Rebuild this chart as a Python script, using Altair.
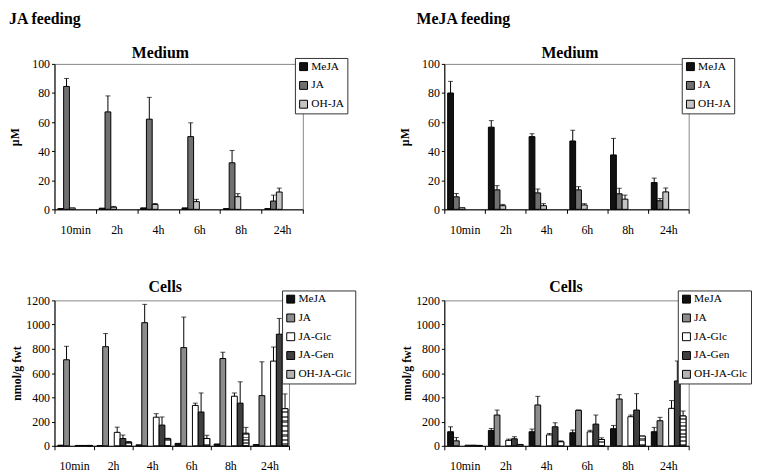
import altair as alt
import pandas as pd

times = ["10min", "2h", "4h", "6h", "8h", "24h"]

# ---- JA feeding, Medium (µM)
med_series = ["MeJA", "JA", "OH-JA"]
jaM_MeJA = [0.5, 0.8, 1.0, 1.0, 0.5, 0.5]
jaM_JA = [84.5, 67, 62, 50, 32, 5.7]
jaM_OHJA = [1.0, 1.5, 3.4, 5.3, 8.7, 11.9]
jaM_MeJA_err = [None, None, None, None, None, None]
jaM_JA_err = [90, 78, 77, 59.5, 40.5, 9.8]
jaM_OHJA_err = [None, 2.0, 4.0, 6.9, 10.8, 14.6]

# ---- MeJA feeding, Medium (µM)
meM_MeJA = [80, 56.5, 50, 47, 37.4, 18.4]
meM_JA = [8.6, 13.4, 11.3, 13.4, 10.7, 5.9]
meM_OHJA = [1.1, 2.5, 2.5, 3.0, 7.0, 12.0]
meM_MeJA_err = [88, 61, 52, 54.4, 48.8, 21.5]
meM_JA_err = [10.9, 16.3, 14, 15.6, 14.5, 7.5]
meM_OHJA_err = [None, 3.4, 3.9, 3.9, 9.8, 14.7]

# ---- JA feeding, Cells (nmol/g fwt)
cell_series = ["MeJA", "JA", "JA-Glc", "JA-Gen", "OH-JA-Glc"]
jaC_MeJA = [5, 2, 8, 20, 15, 10]
jaC_JA = [710, 818, 1016, 810, 720, 414]
jaC_JAGlc = [3, 111, 236, 333, 409, 699]
jaC_JAGen = [3, 60, 171, 279, 352, 921]
jaC_OHJAGlc = [3, 30, 57, 60, 103, 306]
jaC_MeJA_err = [None, None, None, None, None, None]
jaC_JA_err = [821, 926, 1167, 1062, 772, 693]
jaC_JAGlc_err = [None, 154, 265, 352, 436, 815]
jaC_JAGen_err = [None, 89, 238, 436, 528, 1051]
jaC_OHJAGlc_err = [None, 35, 62, 87, 152, 428]

# ---- MeJA feeding, Cells (nmol/g fwt)
meC_MeJA = [116, 127, 116, 108, 141, 116]
meC_JA = [41, 254, 337, 293, 386, 207]
meC_JAGlc = [5, 45, 90, 115, 240, 309]
meC_JAGen = [5, 58, 157, 179, 295, 535]
meC_OHJAGlc = [3, 11, 33, 52, 80, 246]
meC_MeJA_err = [157, 143, 138, 130, 168, 152]
meC_JA_err = [69, 295, 408, 295, 422, 235]
meC_JAGlc_err = [None, 55, 102, 128, 254, 373]
meC_JAGen_err = [None, 75, 190, 254, 430, 700]
meC_OHJAGlc_err = [None, None, 41, 66, None, 287]

med_colors = ["#111111", "#707070", "#c4c4c4"]
cell_colors = ["#111111", "#8c8c8c", "#ffffff", "#3f3f3f", "#b4b4b4"]

FONT = "Liberation Serif"

stops = []
n = 16
for i in range(n):
    c = "#ffffff" if i % 2 == 0 else "#6a6a6a"
    stops.append({"offset": i / n, "color": c})
    stops.append({"offset": (i + 1) / n, "color": c})
pattern = {"gradient": "linear", "x1": 0, "y1": 0, "x2": 0, "y2": 1, "stops": stops}


def make_df(series, values, errs):
    rows = []
    for s, vals, es in zip(series, values, errs):
        for t, v, e in zip(times, vals, es):
            rows.append({"time": t, "series": s, "value": v, "err": e})
    return pd.DataFrame(rows)


def label(text, x, y, align="center"):
    return alt.Chart(pd.DataFrame({"t": [text]})).mark_text(
        font=FONT, fontSize=16, fontWeight="bold", color="black",
        align=align, baseline="middle").encode(
        x=alt.value(x), y=alt.value(y), text="t:N")


def panel(series, values, errs, colors, ytitle, title, tx, ty, ymax, ystep,
          width, lx, ly, outer, tpad, pattern_series=None, head=None):
    df = make_df(series, values, errs)
    x = alt.X("time:N", sort=times, title=None,
              scale=alt.Scale(paddingInner=0, paddingOuter=0),
              axis=alt.Axis(labelAngle=0, tickBand="extent", tickSize=4,
                            labelPadding=11, labelFontSize=12, labelFont=FONT,
                            labelColor="black", domainColor="black",
                            tickColor="black"))
    xo = alt.XOffset("series:N", sort=series,
                     scale=alt.Scale(domain=series, paddingInner=0,
                                     paddingOuter=outer))
    yscale = alt.Scale(domain=[0, ymax], nice=False)
    yaxis = alt.Axis(values=list(range(0, ymax + 1, ystep)), format="d",
                     labelOverlap=False,
                     title=ytitle, titleFont=FONT, titleFontSize=12,
                     titleFontWeight="bold", titleColor="black",
                     titlePadding=tpad, labelFont=FONT, labelFontSize=12,
                     labelColor="black", tickSize=3, tickColor="black",
                     domainColor="black", grid=False)
    y = alt.Y("value:Q", scale=yscale, axis=yaxis)
    yerr = alt.Y("err:Q", scale=yscale, axis=yaxis)
    color = alt.Color("series:N", sort=series,
                      scale=alt.Scale(domain=series, range=colors),
                      legend=alt.Legend(orient="none", legendX=lx, legendY=ly,
                                        title=None, strokeColor="#333333",
                                        fillColor="white", padding=3,
                                        symbolType="square", symbolSize=64,
                                        symbolStrokeColor="black",
                                        symbolStrokeWidth=1, labelFont=FONT,
                                        labelFontSize=11.5, labelColor="black",
                                        rowPadding=6, labelOffset=2))
    base = alt.Chart(df)
    bars = base.mark_bar(stroke="black", strokeWidth=1).encode(
        x=x, xOffset=xo, y=y, color=color)
    layers = [bars]
    if pattern_series:
        pat = base.transform_filter(
            alt.datum.series == pattern_series
        ).mark_bar(stroke="black", strokeWidth=1).encode(
            x=x, xOffset=xo, y=y, color=alt.value(pattern))
        layers.append(pat)
    eb = base.transform_filter("isValid(datum.err)")
    rule = eb.mark_rule(color="black", strokeWidth=1).encode(
        x=x, xOffset=xo, y=y, y2="err:Q")
    cap = eb.mark_tick(color="black", thickness=1, size=5).encode(
        x=x, xOffset=xo, y=yerr)
    layers += [rule, cap, label(title, tx, ty)]
    if head:
        layers.append(label(head[0], head[1], head[2], align="left"))
    return alt.layer(*layers).properties(width=width, height=147)


tl = panel(med_series, [jaM_MeJA, jaM_JA, jaM_OHJA],
           [jaM_MeJA_err, jaM_JA_err, jaM_OHJA_err], med_colors, "µM",
           "Medium", 107, -11, 100, 20, 251, 243, -6, 0.58, 10,
           head=("JA feeding", -46, -45))
tr = panel(med_series, [meM_MeJA, meM_JA, meM_OHJA],
           [meM_MeJA_err, meM_JA_err, meM_OHJA_err], med_colors, "µM",
           "Medium", 127, -11, 100, 20, 247, 240, -6, 0.55, 10,
           head=("MeJA feeding", -28, -45))
bl = panel(cell_series, [jaC_MeJA, jaC_JA, jaC_JAGlc, jaC_JAGen, jaC_OHJAGlc],
           [jaC_MeJA_err, jaC_JA_err, jaC_JAGlc_err, jaC_JAGen_err,
            jaC_OHJAGlc_err], cell_colors, "nmol/g fwt", "Cells", 112, -13,
           1200, 200, 237, 230, -10, 0.68, 2, "OH-JA-Glc")
br = panel(cell_series, [meC_MeJA, meC_JA, meC_JAGlc, meC_JAGen, meC_OHJAGlc],
           [meC_MeJA_err, meC_JA_err, meC_JAGlc_err, meC_JAGen_err,
            meC_OHJAGlc_err], cell_colors, "nmol/g fwt", "Cells", 123, -13,
           1200, 200, 247, 236, -10, 0.68, 2, "OH-JA-Glc")

col1 = alt.concat(tl, bl, columns=1, spacing=43, align="none").resolve_scale(
    color="independent", x="independent", y="independent")
col2 = alt.concat(tr, br, columns=1, spacing=43, align="none").resolve_scale(
    color="independent", x="independent", y="independent")

chart = alt.hconcat(col1, col2, spacing=42).resolve_scale(
    color="independent", x="independent", y="independent").properties(
    padding=0).configure(font=FONT).configure_view(stroke="#888888",
                                                   strokeWidth=1)

chart.save("out.html", embed_options={"renderer": "svg", "actions": False})
